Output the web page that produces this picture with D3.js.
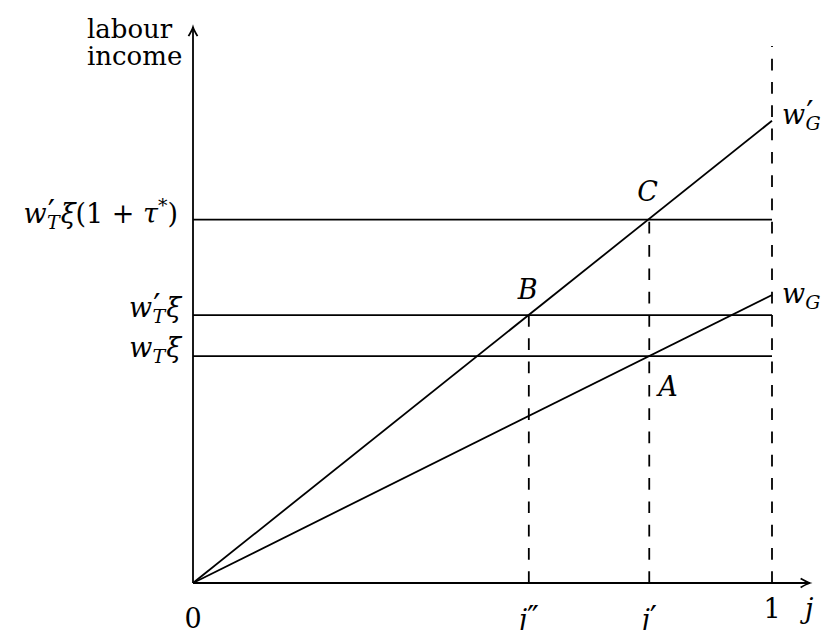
<!DOCTYPE html>
<html><head><meta charset="utf-8">
<script src="https://cdn.jsdelivr.net/npm/d3@7"></script>
<style>
html,body{margin:0;padding:0;background:#fff;}
svg{display:block;}
text{font-family:"DejaVu Serif",serif;fill:#000;}
</style></head><body>
<svg id="chart" width="825" height="630" font-family="DejaVu Serif, serif"></svg>
<script>
// positions on the horizontal axis (share of jobs j)
const jMarks = [
  {id: "jpp", value: 0.58},
  {id: "jp", value: 0.788},
  {id: "one", value: 1.0}
];
// wage lines through the origin, given by their income at j = 1
const wageLines = [
  {id: "wG", end: 1.0},
  {id: "wGp", end: 1.605}
];
// horizontal income levels
const levels = [
  {id: "wTxi", value: 0.788},
  {id: "wTpxi", value: 0.93},
  {id: "wTpxiTau", value: 1.262}
];
// dashed guides: from the axis up to a given income
const guides = [
  {j: 0.58, top: 0.93},
  {j: 0.788, top: 1.262},
  {j: 1.0, top: 1.865}
];
// extent of the axes, in data units
const axisEnd = {j: 1.065, income: 1.93};

const svg = d3.select("#chart");
const x = d3.scaleLinear().domain([0, 1]).range([193, 772]);
const y = d3.scaleLinear().domain([0, 1]).range([583, 295]);
const line = d3.line().x(d => x(d[0])).y(d => y(d[1]));
const SW = 1.8;

// income levels
svg.append("g").selectAll("path").data(levels).join("path")
  .attr("d", d => line([[0, d.value], [1, d.value]]))
  .attr("stroke", "#000").attr("stroke-width", SW).attr("fill", "none");

// wage lines
svg.append("g").selectAll("path").data(wageLines).join("path")
  .attr("d", d => line([[0, 0], [1, d.end]]))
  .attr("stroke", "#000").attr("stroke-width", SW).attr("fill", "none");

// dashed guides, drawn upward from the axis
svg.append("g").selectAll("path").data(guides).join("path")
  .attr("d", d => line([[d.j, 0], [d.j, d.top]]))
  .attr("stroke", "#000").attr("stroke-width", SW).attr("fill", "none")
  .attr("stroke-dasharray", "11.7 11.6");

// axes with arrow tips
const axes = svg.append("g").attr("stroke", "#000").attr("stroke-width", SW).attr("fill", "none");
axes.append("path").attr("d", line([[0, 0], [axisEnd.j, 0]]));
axes.append("path").attr("d", line([[0, 0], [0, axisEnd.income]]));
const tipX = x(axisEnd.j), tipY = y(axisEnd.income), ax0 = x(0), ay0 = y(0);
axes.append("path").attr("d",
  `M${tipX - 9},${ay0 - 4.5} Q${tipX - 3},${ay0 - 1} ${tipX},${ay0} Q${tipX - 3},${ay0 + 1} ${tipX - 9},${ay0 + 4.5}`);
axes.append("path").attr("d",
  `M${ax0 - 4.5},${tipY + 9} Q${ax0 - 1},${tipY + 3} ${ax0},${tipY} Q${ax0 + 1},${tipY + 3} ${ax0 + 4.5},${tipY + 9}`);

// math text helper: parts with italic flag and vertical position
const FS = 27, FSS = 19, FSP = 32;
function math(px, py, anchor, parts) {
  const t = svg.append("text").attr("x", px).attr("y", py)
    .attr("text-anchor", anchor).attr("font-size", FS);
  let cur = 0;
  parts.forEach(p => {
    const shift = p.pos === "sup" ? -11 : p.pos === "sub" ? 6 : p.pos === "prime" ? -1 : 0;
    const size = p.pos === "sup" || p.pos === "sub" ? FSS : p.pos === "prime" ? FSP : FS;
    const ts = t.append("tspan").text(p.t)
      .attr("dy", shift - cur)
      .attr("font-style", p.i ? "italic" : "normal")
      .attr("font-size", size);
    if (p.dx) ts.attr("dx", p.dx);
    cur = shift;
  });
  return t;
}
const W = {t: "w", i: true};
const PRIME = {t: "\u2032", pos: "prime", dx: 1};
const SUBT = {t: "T", i: true, pos: "sub", dx: -8};
const XI = {t: "\u03be", i: true, dx: 1};

// y-axis title
svg.append("text").attr("x", 87).attr("y", 38).attr("font-size", 26).text("labour");
svg.append("text").attr("x", 87).attr("y", 65).attr("font-size", 26).text("income");

// level labels
const lv = id => y(levels.find(l => l.id === id).value);
math(178, lv("wTpxiTau") + 3, "end", [W, PRIME, SUBT, XI,
  {t: "(1 + "}, {t: "\u03c4", i: true}, {t: "*", pos: "sup"}, {t: ")"}]);
math(181, lv("wTpxi") + 2, "end", [W, PRIME, SUBT, XI]);
math(181, lv("wTxi") + 1, "end", [W, {t: "T", i: true, pos: "sub"}, XI]);

// intersection labels
const jv = id => x(jMarks.find(m => m.id === id).value);
math(jv("jpp") - 11, lv("wTpxi") - 16, "start", [{t: "B", i: true}]);
math(jv("jp") - 12, lv("wTpxiTau") - 19, "start", [{t: "C", i: true}]);
math(jv("jp") + 9, lv("wTxi") + 40, "start", [{t: "A", i: true}]);

// wage line labels
math(x(1) + 10, y(wageLines[0].end) + 8, "start", [W, {t: "G", i: true, pos: "sub"}]);
math(x(1) + 10, y(wageLines[1].end) + 3, "start", [W, PRIME, {t: "G", i: true, pos: "sub", dx: -8}]);

// axis labels
math(x(0), 628, "middle", [{t: "0"}]);
math(jv("jpp"), 629, "middle", [{t: "j", i: true}, {t: "\u2033", pos: "prime"}]);
math(jv("jp"), 629, "middle", [{t: "j", i: true}, {t: "\u2032", pos: "prime"}]);
math(jv("one"), 618, "middle", [{t: "1"}]);
math(805, 618, "start", [{t: "j", i: true}]);
</script>
</body></html>
